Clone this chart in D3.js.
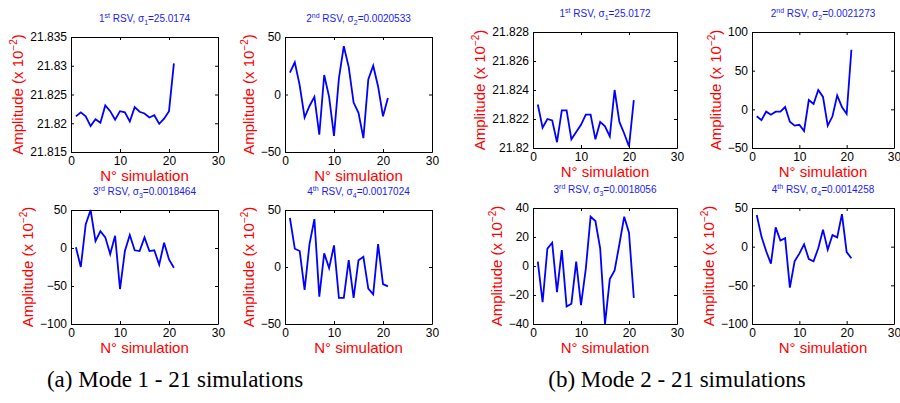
<!DOCTYPE html>
<html><head><meta charset="utf-8">
<script src="https://cdn.jsdelivr.net/npm/d3@7"></script>
<style>body{margin:0;background:#fff} svg{display:block}</style>
</head><body>
<svg id="c" width="900" height="403"></svg>
<script>
// ---------- data ----------
const simulations = [1,2,3,4,5,6,7,8,9,10,11,12,13,14,15,16,17,18,19,20,21];
const xTicks = [0,10,20,30];

const mode1_rsv1 = [21.8212,21.8219,21.8212,21.8195,21.8207,21.8201,21.8231,21.8221,21.8206,21.8221,21.8219,21.8203,21.8228,21.8220,21.8217,21.8210,21.8214,21.8199,21.8208,21.8221,21.8304];
const mode1_rsv2 = [19,28,8,-20,-10,-2,-35,17,-2,-36,14,42,24,-7,-16,-38,13,25,7,-19,-3];
const mode1_rsv3 = [1,-25,31,50,9,22,14,-8,16,-54,-4,17,-3,-4,14,-4,-3,-22,7,-15,-26];
const mode1_rsv4 = [43,16,14,-20,20,42,-26,12,-1,19,-27,-27,6,-27,6,9,-19,-24,20,-15,-17];

const mode2_rsv1 = [21.8230,21.8214,21.8220,21.8219,21.8204,21.8226,21.8226,21.8206,21.8211,21.8216,21.8223,21.8223,21.8206,21.8218,21.8215,21.8208,21.8240,21.8218,21.8210,21.8201,21.8233];
const mode2_rsv2 = [-9,-14,-3,-7,-3,-3,3,-16,-21,-20,-28,12,7,25,16,-21,-9,18,3,-6,77];
const mode2_rsv3 = [3,-25,12,16,-18,11,-28,-26,3,-27,-2,34,31,12,-40,-9,-3,15,34,23,-22];
const mode2_rsv4 = [41,13,-6,-22,25,8,11,-53,-19,-9,3,-16,-19,-2,22,-4,15,12,42,-7,-15];

const yTicks_m1_1 = [21.815,21.82,21.825,21.83,21.835];
const yTicks_m1_2 = [-50,0,50];
const yTicks_m1_3 = [-100,-50,0,50];
const yTicks_m1_4 = [-50,0,50];
const yTicks_m2_1 = [21.82,21.822,21.824,21.826,21.828];
const yTicks_m2_2 = [-50,0,50,100];
const yTicks_m2_3 = [-40,-20,0,20,40];
const yTicks_m2_4 = [-100,-50,0,50];

const titleOrd = ["st","nd","rd","th"];
const sigmas_m1 = ["25.0174","0.0020533","0.0018464","0.0017024"];
const sigmas_m2 = ["25.0172","0.0021273","0.0018056","0.0014258"];
const captions = ["(a) Mode 1 - 21 simulations","(b) Mode 2 - 21 simulations"];

// ---------- layout ----------
const layout = [
  {values:mode1_rsv1, ticks:yTicks_m1_1, k:0, sig:sigmas_m1[0], l:71,  r:218, t:37,  b:152},
  {values:mode1_rsv2, ticks:yTicks_m1_2, k:1, sig:sigmas_m1[1], l:285, r:432, t:37,  b:152},
  {values:mode1_rsv3, ticks:yTicks_m1_3, k:2, sig:sigmas_m1[2], l:71,  r:218, t:210, b:324},
  {values:mode1_rsv4, ticks:yTicks_m1_4, k:3, sig:sigmas_m1[3], l:285, r:432, t:210, b:324},
  {values:mode2_rsv1, ticks:yTicks_m2_1, k:0, sig:sigmas_m2[0], l:533, r:677, t:32,  b:148},
  {values:mode2_rsv2, ticks:yTicks_m2_2, k:1, sig:sigmas_m2[1], l:752, r:894, t:32,  b:148},
  {values:mode2_rsv3, ticks:yTicks_m2_3, k:2, sig:sigmas_m2[2], l:533, r:677, t:208, b:324},
  {values:mode2_rsv4, ticks:yTicks_m2_4, k:3, sig:sigmas_m2[3], l:752, r:894, t:208, b:324},
];

const svg = d3.select("#c");
const FONT = "'Liberation Sans', Arial, Helvetica, sans-serif";
const fmt = v => String(+v.toFixed(6)).replace("-", "\u2212");
const TL = 3;

layout.forEach(p => {
  const x = d3.scaleLinear().domain([xTicks[0], xTicks[xTicks.length-1]]).range([p.l, p.r]);
  const y = d3.scaleLinear().domain([p.ticks[0], p.ticks[p.ticks.length-1]]).range([p.b, p.t]);
  const g = svg.append("g");

  // line
  const line = d3.line().x((d,i) => x(simulations[i])).y(d => y(d));
  g.append("path").datum(p.values).attr("d", line)
    .attr("fill","none").attr("stroke","#0000ff").attr("stroke-width",1.8)
    .attr("stroke-linejoin","miter");

  // axes (inward ticks, mirrored)
  const ax = [
    d3.axisBottom(x).tickValues(xTicks).tickSizeInner(-TL).tickSizeOuter(0).tickFormat(fmt),
    d3.axisLeft(y).tickValues(p.ticks).tickSizeInner(-TL).tickSizeOuter(0).tickFormat(fmt),
    d3.axisTop(x).tickValues(xTicks).tickSizeInner(-TL).tickSizeOuter(0).tickFormat(""),
    d3.axisRight(y).tickValues(p.ticks).tickSizeInner(-TL).tickSizeOuter(0).tickFormat(""),
  ];
  const trans = [`translate(0,${p.b})`, `translate(${p.l},0)`, `translate(0,${p.t})`, `translate(${p.r},0)`];
  let leftAxisG = null;
  ax.forEach((a,i) => {
    const ag = g.append("g").attr("transform", trans[i]).call(a);
    ag.select(".domain").attr("stroke","#000").attr("stroke-width",1);
    ag.selectAll(".tick line").attr("stroke","#000");
    ag.selectAll("text").attr("font-family",FONT).attr("font-size",12).attr("fill","#000");
    if (i===0) ag.selectAll("text").attr("y",4).attr("dy","0.71em");
    if (i===1) { ag.selectAll("text").attr("x",-4); leftAxisG = ag; }
  });

  // tick label width for ylabel placement
  let maxW = 0;
  leftAxisG.selectAll(".tick text").each(function(){ maxW = Math.max(maxW, this.getComputedTextLength()); });
  const yl = g.append("text").attr("font-family",FONT).attr("font-size",15).attr("fill","#ff0000")
    .attr("text-anchor","middle")
    .attr("transform", `translate(${p.l - 4 - maxW - 7},${(p.t+p.b)/2}) rotate(-90)`);
  yl.append("tspan").text("Amplitude (x 10");
  yl.append("tspan").attr("font-size",10).attr("dy",-6).text("\u22122");
  yl.append("tspan").attr("dy",6).text(")");

  // xlabel
  g.append("text").attr("font-family",FONT).attr("font-size",15).attr("fill","#ff0000")
    .attr("text-anchor","middle").attr("x",(p.l+p.r)/2).attr("y",p.b+29).text("N\u00b0 simulation");

  // title
  const tt = g.append("text").attr("font-family",FONT).attr("font-size",10).attr("fill","#1a1aff")
    .attr("text-anchor","middle").attr("x",(p.l+p.r)/2).attr("y",p.t-15);
  tt.append("tspan").text(String(p.k+1));
  tt.append("tspan").attr("font-size",7).attr("dy",-4).text(titleOrd[p.k]);
  tt.append("tspan").attr("dy",4).text(" RSV, \u03c3");
  tt.append("tspan").attr("font-size",7).attr("dy",3).text(String(p.k+1));
  tt.append("tspan").attr("dy",-3).text("=" + p.sig);
});

// captions
svg.append("text").attr("font-family","'Liberation Serif','Times New Roman',serif").attr("font-size",23)
  .attr("text-anchor","middle").attr("x",175).attr("y",387).attr("fill","#000").text(captions[0]);
svg.append("text").attr("font-family","'Liberation Serif','Times New Roman',serif").attr("font-size",23)
  .attr("text-anchor","middle").attr("x",677).attr("y",387).attr("fill","#000").text(captions[1]);
</script>
</body></html>
